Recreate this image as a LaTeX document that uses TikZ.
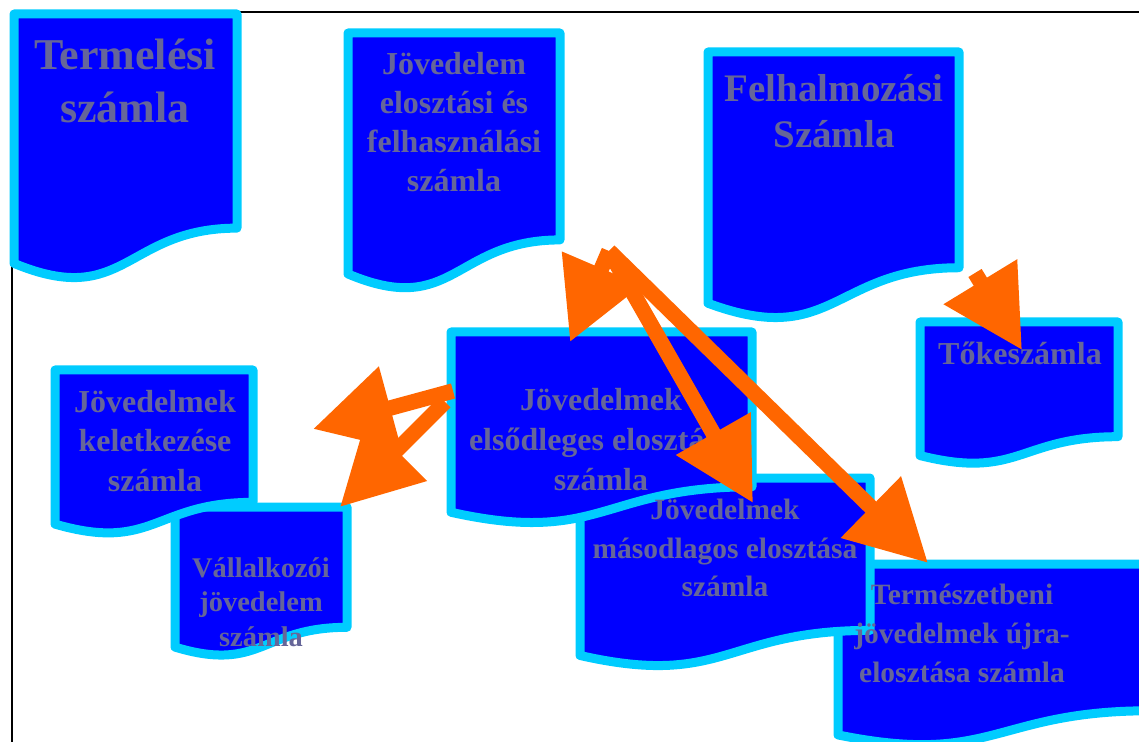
\documentclass[tikz,border=0pt]{standalone}
\usepackage{fontspec}
\setmainfont{Liberation Serif}
\usepackage{xcolor}
\definecolor{docfill}{HTML}{0000FF}
\definecolor{docline}{HTML}{00CCFF}
\definecolor{doctext}{HTML}{666699}
\definecolor{arrfill}{HTML}{FF6600}
\usetikzlibrary{arrows.meta}
\tikzset{
  doc/.style={fill=docfill,draw=docline,line width=4.5pt,line join=round},
  lab/.style={text=doctext,align=center,inner sep=0pt},
  arr/.style={draw=arrfill,line width=7.75pt,-{Triangle[length=40pt,width=41pt]}},
}
\newcommand{\setsz}[2]{\bfseries\fontsize{#1pt}{#2pt}\selectfont}
\newcommand{\szamla}[4]{\filldraw[doc] (#1,#2) -- (#3,#2) -- (#3,{#2+0.802*#4})
  .. controls ({(#1+#3)/2},{#2+0.802*#4}) and ({(#1+#3)/2},{#2+1.107*#4}) .. (#1,{#2+0.934*#4}) -- cycle;}

\begin{document}
\begin{tikzpicture}[x=0.5pt,y=-0.5pt]
\useasboundingbox (0,0) rectangle (1139,742);
\draw[line width=1pt] (12,780) -- (12,12) -- (1170,12);
\szamla{14}{14}{237}{267}
\szamla{348}{33}{560}{258}
\szamla{708}{52}{959}{269}
\szamla{920}{322}{1118}{143}
\szamla{838}{564}{1150}{183}
\szamla{580}{478}{870}{190}
\szamla{451}{332}{752}{193}
\szamla{175}{507}{347}{150}
\szamla{55}{370}{253}{165}
\node[lab,font=\setsz{22}{26.5}] (termeles) at (125,81) {Termelési\\számla};
\node[lab,font=\setsz{16}{19.5}] (jovfelh) at (454,122) {Jövedelem\\elosztási és\\felhasználási\\számla};
\node[lab,font=\setsz{19.5}{23}] (felhalm) at (834,111) {Felhalmozási\\Számla};
\node[lab,font=\setsz{16}{19.5}] (toke) at (1020,353) {Tőkeszámla};
\node[lab,font=\setsz{16}{19.75}] (keletk) at (155,441) {Jövedelmek\\keletkezése\\számla};
\node[lab,font=\setsz{14.25}{17.25}] (vallalk) at (261,602) {Vállalkozói\\jövedelem\\számla};
\node[lab,font=\setsz{16}{20}] (elsod) at (601,440) {Jövedelmek\\elsődleges elosztása\\számla};
\node[lab,font=\setsz{14.75}{19.25}] (masod) at (725,548) {Jövedelmek\\másodlagos elosztása\\számla};
\node[lab,font=\setsz{14.75}{19.5}] (termesz) at (962,633) {Természetbeni\\jövedelmek újra-\\elosztása számla};
\coordinate (hub) at (609,251);
\coordinate (elsodbe) at (570,342);
\coordinate (masodbe) at (753,503);
\coordinate (termeszbe) at (928,563);
\coordinate (elsodki1) at (453,391);
\coordinate (keletkbe) at (313,429);
\coordinate (elsodki2) at (445,402);
\coordinate (vallalkbe) at (340,507);
\coordinate (felhalmki) at (975,273);
\coordinate (tokebe) at (1022,350);
\draw[arr] (elsodki1) -- (keletkbe);
\draw[arr] (elsodki2) -- (vallalkbe);
\draw[arr] (hub) -- (elsodbe);
\draw[arr] (hub) -- (masodbe);
\draw[arr] (hub) -- (termeszbe);
\draw[arr] (felhalmki) -- (tokebe);
\end{tikzpicture}
\end{document}
